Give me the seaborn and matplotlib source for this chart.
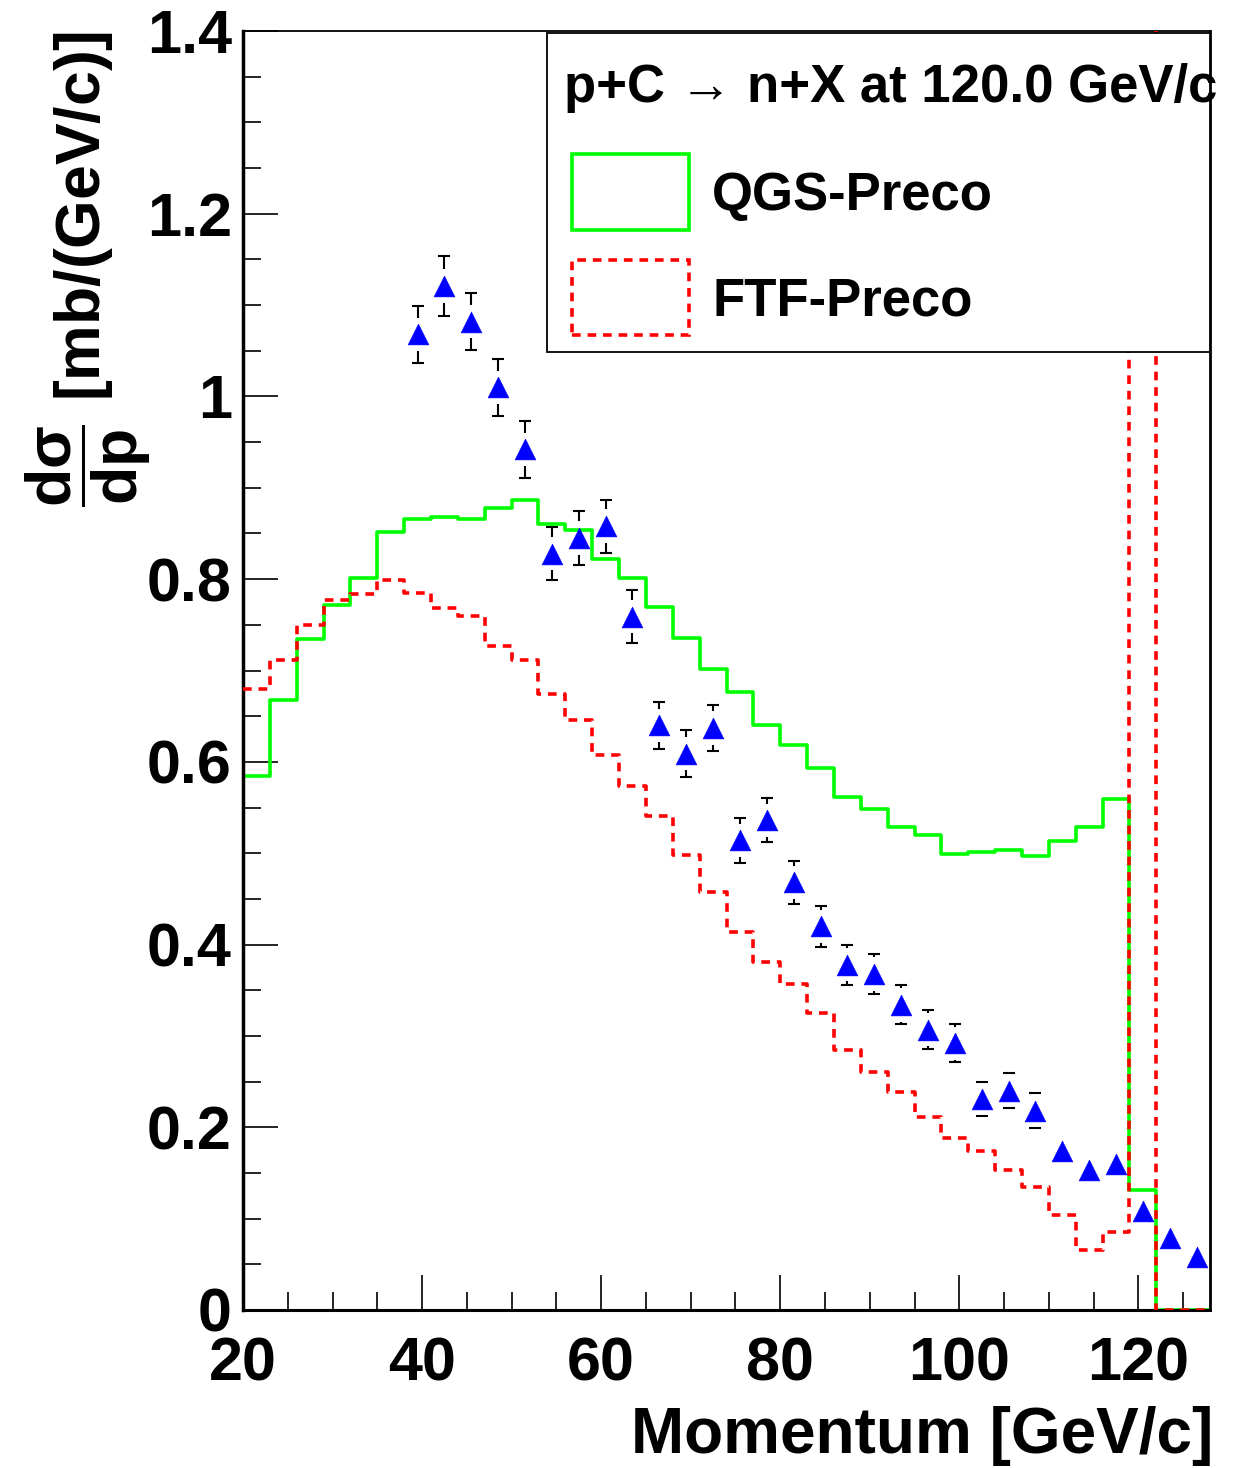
import numpy as np
import pandas as pd
import matplotlib
matplotlib.use("Agg")
import matplotlib.pyplot as plt
import seaborn as sns
from matplotlib.patches import Rectangle
from matplotlib.ticker import MultipleLocator, FuncFormatter

# ---------------- data ----------------
bin_edges = [20, 23, 26, 29, 32, 35, 38, 41, 44, 47, 50, 53, 56, 59, 62, 65, 68, 71,
             74, 77, 80, 83, 86, 89, 92, 95, 98, 101, 104, 107, 110, 113, 116, 119,
             122, 125, 128]

qgs_preco = [0.585, 0.668, 0.735, 0.772, 0.801, 0.852, 0.866, 0.868, 0.866, 0.878,
             0.887, 0.860, 0.854, 0.822, 0.801, 0.769, 0.736, 0.702, 0.676, 0.640,
             0.618, 0.593, 0.562, 0.548, 0.529, 0.520, 0.499, 0.501, 0.504, 0.497,
             0.513, 0.529, 0.559, 0.131, 0.0, 0.0]

ftf_preco = [0.680, 0.7115, 0.750, 0.777, 0.784, 0.799, 0.785, 0.768, 0.760, 0.727,
             0.7115, 0.674, 0.646, 0.607, 0.574, 0.541, 0.4985, 0.457, 0.414, 0.381,
             0.357, 0.325, 0.285, 0.2605, 0.239, 0.2115, 0.1886, 0.1738, 0.1528, 0.1348,
             0.104, 0.066, 0.085, 2.0, 0.0, 0.0]

data_p = [39.5, 42.5, 45.5, 48.5, 51.5, 54.5, 57.5, 60.5, 63.5, 66.5,
          69.5, 72.5, 75.5, 78.5, 81.5, 84.5, 87.5, 90.5, 93.5, 96.5,
          99.5, 102.5, 105.5, 108.5, 111.5, 114.5, 117.5, 120.5, 123.5, 126.5]
data_y = [1.068, 1.121, 1.082, 1.010, 0.942, 0.828, 0.845, 0.858, 0.759, 0.640,
          0.609, 0.637, 0.514, 0.536, 0.468, 0.420, 0.378, 0.368, 0.334, 0.307,
          0.292, 0.231, 0.240, 0.218, 0.174, 0.153, 0.160, 0.108, 0.079, 0.058]
data_err = [0.031, 0.033, 0.031, 0.031, 0.031, 0.029, 0.030, 0.029, 0.029, 0.026,
            0.0255, 0.0255, 0.0245, 0.024, 0.024, 0.0225, 0.022, 0.0216, 0.0212, 0.0212,
            0.0208, 0.019, 0.0194, 0.0192, 0.0, 0.0, 0.0, 0.0, 0.0, 0.0]

legend_title = "p+C \u2192 n+X at 120.0 GeV/c"
series_names = ["QGS-Preco", "FTF-Preco"]

# ---------------- style ----------------
sns.set_style("white")
plt.rcParams['font.family'] = ['Liberation Sans', 'DejaVu Sans']
plt.rcParams['font.weight'] = 'bold'
plt.rcParams['text.color'] = 'black'
plt.rcParams['axes.labelcolor'] = 'black'
plt.rcParams['xtick.color'] = 'black'
plt.rcParams['ytick.color'] = 'black'
plt.rcParams['axes.edgecolor'] = 'black'
plt.rcParams['mathtext.fontset'] = 'custom'
plt.rcParams['mathtext.rm'] = 'Liberation Sans:bold'
plt.rcParams['mathtext.bf'] = 'Liberation Sans:bold'
plt.rcParams['mathtext.it'] = 'Liberation Sans:bold'
plt.rcParams['mathtext.sf'] = 'Liberation Sans:bold'

W, H = 1248, 1468
AX_L, AX_R, AX_T, AX_B = 243, 1210, 31, 1310
fig = plt.figure(figsize=(W / 100, H / 100), dpi=100)
fig.patch.set_facecolor('white')
ax = fig.add_axes([AX_L / W, 1 - AX_B / H, (AX_R - AX_L) / W, (AX_B - AX_T) / H])
ax.set_facecolor('white')


def A(px, py):
    """pixel position in the figure -> axes fraction coordinates"""
    return ((px - AX_L) / (AX_R - AX_L), (AX_B - py) / (AX_B - AX_T))


centers = [(a + b) / 2 for a, b in zip(bin_edges[:-1], bin_edges[1:])]
df_h = pd.DataFrame({'p': centers, 'QGS': qgs_preco, 'FTF': ftf_preco})

GREEN = '#00ff00'
RED = '#ff0000'
BLUE = '#0000ff'
LW_H = 2.6
DASH = (0, (2.4, 1.9))

sns.histplot(data=df_h, x='p', weights='QGS', bins=bin_edges, element='step',
             fill=False, color=GREEN, linewidth=LW_H, ax=ax, zorder=2)
n_before = len(ax.lines)
sns.histplot(data=df_h, x='p', weights='FTF', bins=bin_edges, element='step',
             fill=False, color=RED, linewidth=LW_H, linestyle=DASH, ax=ax, zorder=3)
for i, ln in enumerate(ax.lines):
    ln.set_linewidth(LW_H)
    if i >= n_before:
        ln.set_linestyle(DASH)
        ln.set_dash_capstyle('butt')

ax.set_xlim(20, 128)
ax.set_ylim(0, 1.4)

# error bars (with a gap around the marker, ROOT style)
px_per_y = ax.transData.transform((0, 1))[1] - ax.transData.transform((0, 0))[1]
gap = 16.7 / px_per_y
xp = np.array(data_p)
yp = np.array(data_y)
ep = np.array(data_err)
m = ep > gap
ax.vlines(xp[m], yp[m] + gap, yp[m] + ep[m], colors='black', linewidth=1.5, zorder=4)
ax.vlines(xp[m], yp[m] - ep[m], yp[m] - gap, colors='black', linewidth=1.5, zorder=4)
c = ep > 0
ax.plot(xp[c], yp[c] + ep[c], linestyle='none', marker='_', markersize=8.6,
        markeredgewidth=1.5, color='black', zorder=4)
ax.plot(xp[c], yp[c] - ep[c], linestyle='none', marker='_', markersize=8.6,
        markeredgewidth=1.5, color='black', zorder=4)

sns.scatterplot(x=data_p, y=data_y, marker='^', s=225, color=BLUE,
                edgecolor=BLUE, linewidth=0.4, ax=ax, zorder=5)

ax.set_xlim(20, 128)
ax.set_ylim(0, 1.4)

# ---------------- axes ----------------
for side, lw in [('left', 2.5), ('bottom', 2.2), ('top', 1.3), ('right', 2.0)]:
    ax.spines[side].set_visible(True)
    ax.spines[side].set_color('black')
    ax.spines[side].set_linewidth(lw)

ax.xaxis.set_major_locator(MultipleLocator(20))
ax.xaxis.set_minor_locator(MultipleLocator(5))
ax.yaxis.set_major_locator(MultipleLocator(0.2))
ax.yaxis.set_minor_locator(MultipleLocator(0.05))
fmt = FuncFormatter(lambda v, pos: f"{v:g}")
ax.xaxis.set_major_formatter(fmt)
ax.yaxis.set_major_formatter(fmt)
ax.tick_params(which='both', direction='in', top=False, right=False,
               left=True, bottom=True, width=1.2, color='black')
ax.tick_params(which='major', length=25)
ax.tick_params(which='minor', length=13)
ax.tick_params(axis='y', which='major', pad=8, labelsize=44, labelcolor='black')
ax.tick_params(axis='x', which='major', pad=19, labelsize=44, labelcolor='black')
for lab in ax.get_xticklabels() + ax.get_yticklabels():
    lab.set_fontweight('bold')

ax.set_xlabel('Momentum [GeV/c]', fontsize=46, fontweight='bold', loc='right',
              color='black')
ax.xaxis.set_label_coords(A(1213, 0)[0], A(0, 1406)[1])
ax.set_ylabel(r'$\mathbf{\dfrac{d\sigma}{dp}}$ [mb/(GeV/c)]', fontsize=45,
              fontweight='bold', loc='top', color='black')
ax.yaxis.set_label_coords(A(153, 0)[0], 1.0)

# ---------------- legend (ROOT style box) ----------------
x0, y0 = A(547, 352)
x1, y1 = A(1210, 33)
ax.add_patch(Rectangle((x0, y0), x1 - x0, y1 - y0, transform=ax.transAxes,
                       facecolor='white', edgecolor='black', linewidth=1.3,
                       zorder=10, clip_on=False))
hx0, hy0 = A(572, 230)
hx1, hy1 = A(689, 154)
ax.add_patch(Rectangle((hx0, hy0), hx1 - hx0, hy1 - hy0, transform=ax.transAxes,
                       facecolor='none', edgecolor=GREEN, linewidth=LW_H,
                       zorder=11, clip_on=False))
hx0, hy0 = A(572, 335)
hx1, hy1 = A(689, 260)
ax.add_patch(Rectangle((hx0, hy0), hx1 - hx0, hy1 - hy0, transform=ax.transAxes,
                       facecolor='none', edgecolor=RED, linewidth=LW_H, linestyle=DASH,
                       zorder=11, clip_on=False))
ax.text(*A(564, 102), legend_title, transform=ax.transAxes, ha='left', va='baseline',
        fontsize=38, fontweight='bold', color='black', zorder=12, clip_on=False)
ax.text(*A(712, 210), series_names[0], transform=ax.transAxes, ha='left',
        va='baseline', fontsize=38, fontweight='bold', color='black', zorder=12)
ax.text(*A(712, 316), series_names[1], transform=ax.transAxes, ha='left',
        va='baseline', fontsize=38, fontweight='bold', color='black', zorder=12)

fig.savefig('out.png', dpi=100, facecolor='white')
